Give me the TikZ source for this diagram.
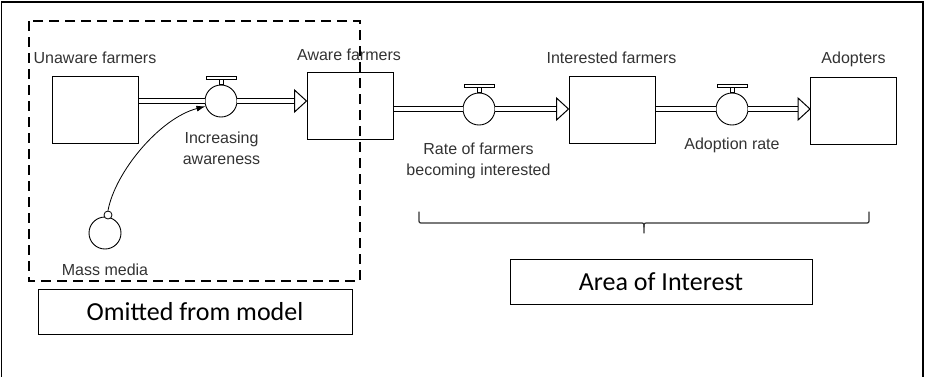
\documentclass[tikz,border=0pt]{standalone}
\usepackage{fontspec}
\setmainfont{Liberation Sans}
\newfontfamily\calfont{Carlito}
\usetikzlibrary{arrows.meta,calc}
\begin{document}
\begin{tikzpicture}[x=1pt,y=-1pt,
  lab/.style={font=\fontsize{16}{21}\selectfont, text=black!80, inner sep=0pt, align=center, anchor=base},
  stock/.style={draw, line width=1pt, minimum width=86pt, minimum height=67pt, inner sep=0pt},
  valve/.style={draw, circle, line width=0.9pt, minimum size=32pt, inner sep=0pt, fill=white},
  pipe/.style={draw, line width=1pt, double=white, double distance=3.5pt},
  tri/.style={draw, line width=1pt, fill=white, line join=miter},
  capbox/.style={draw, line width=1pt, inner sep=0pt, font=\calfont\fontsize{26}{30}\selectfont},
  infl/.style={line width=0.8pt, -{Latex[length=9pt,width=6pt]}},
  bracket/.style={draw, line width=1.2pt, black!80, line cap=round}
]
\useasboundingbox (0,0) rectangle (925,376);
% outer frame
\draw[line width=1.2pt] (1.5,378) -- (1.5,2) -- (923,2) -- (923,378);

% stocks
\node[stock] (unaware) at (95,110) {};
\node[stock] (aware) at (350,105.5) {};
\node[stock] (interested) at (612,109.5) {};
\node[stock] (adopters) at (853.5,110.5) {};

\node[lab] (tunaware) at (95,63.5) {Unaware farmers};
\node[lab] (taware) at (349,60) {Aware farmers};
\node[lab] (tinterested) at (611.5,63) {Interested farmers};
\node[lab] (tadopters) at (853.5,63) {Adopters};

% valves
\node[valve] (v1) at (221,101) {};
\node[valve] (v2) at (479,109) {};
\node[valve] (v3) at (732,109) {};

\node[lab] (tv1) at (221.5,164) {Increasing\\awareness};
\node[lab] (tv2) at (478.5,175) {Rate of farmers\\becoming interested};
\node[lab] (tv3) at (732,149) {Adoption rate};

% pipes
\coordinate (a1) at (aware.west |- v1);
\coordinate (a2) at (interested.west |- v2);
\coordinate (a3) at (adopters.west |- v3);
\draw[pipe] (unaware.east |- v1) -- (v1.west);
\draw[pipe] (v1.east) -- ([xshift=-12pt]a1);
\draw[tri] ([xshift=-12pt,yshift=11pt]a1) -- (a1) -- ([xshift=-12pt,yshift=-11pt]a1) -- cycle;
\draw[pipe] (aware.east |- v2) -- (v2.west);
\draw[pipe] (v2.east) -- ([xshift=-12pt]a2);
\draw[tri] ([xshift=-12pt,yshift=11pt]a2) -- (a2) -- ([xshift=-12pt,yshift=-11pt]a2) -- cycle;
\draw[pipe] (interested.east |- v3) -- (v3.west);
\draw[pipe] (v3.east) -- ([xshift=-12pt]a3);
\draw[tri] ([xshift=-12pt,yshift=11pt]a3) -- (a3) -- ([xshift=-12pt,yshift=-11pt]a3) -- cycle;

% valve handles
\foreach \v in {v1,v2,v3}{
  \draw[line width=0.8pt, fill=white] ([xshift=-2pt]\v.north) rectangle ([xshift=2pt,yshift=5pt]\v.north);
  \draw[line width=0.8pt, fill=white] ([xshift=-15pt,yshift=5pt]\v.north) rectangle ([xshift=15pt,yshift=8pt]\v.north);
}

% mass media
\node[valve] (mm) at (105,233) {};
\node[draw, circle, line width=0.8pt, minimum size=8pt, inner sep=0pt, fill=white] (mmc) at (108,215) {};
\node[lab] (tmm) at (105,275) {Mass media};
\draw[infl] (mmc.north) .. controls (115,172) and (160,118) .. (v1.199);

% dashed omitted region
\draw[line width=2.5pt, dash pattern=on 10pt off 6pt] (29,21) rectangle (360,281);

% caption boxes
\node[capbox, minimum width=314pt, minimum height=45pt] (omit) at (195,311.5) {};
\node[font=\calfont\fontsize{26}{30}\selectfont, anchor=base, inner sep=0pt] (tomit) at (195,320) {Omitted from model};
\node[capbox, minimum width=302pt, minimum height=45pt] (area) at (661,281.5) {};
\node[font=\calfont\fontsize{26}{30}\selectfont, anchor=base, inner sep=0pt] (tarea) at (661,290) {Area of Interest};

% brace
\draw[bracket] (419,212) -- (419,219) .. controls (419,223) .. (423,223) -- (640,223) .. controls (644,223) .. (644,227) -- (644,233);
\draw[bracket] (869,212) -- (869,219) .. controls (869,223) .. (865,223) -- (648,223) .. controls (644,223) .. (644,227);
\end{tikzpicture}
\end{document}
